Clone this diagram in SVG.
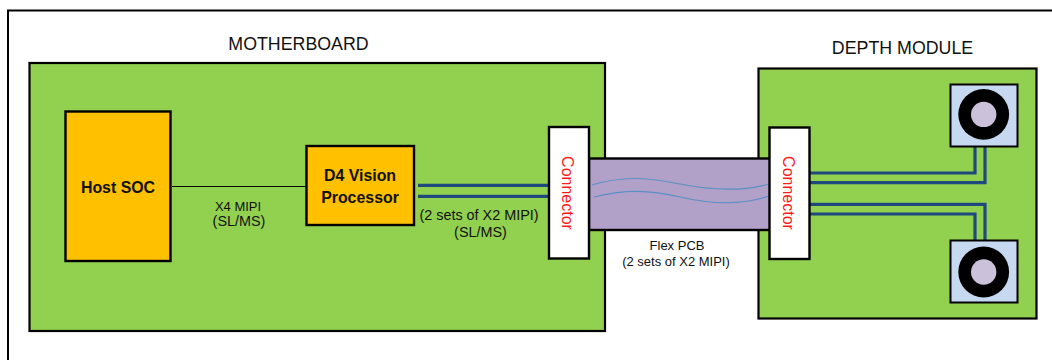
<svg xmlns="http://www.w3.org/2000/svg" width="1052" height="360" viewBox="0 0 1052 360">
<style>
.board{fill:#92d050;stroke:#000;stroke-width:2.2}
.chip{fill:#ffc000;stroke:#000;stroke-width:2.4}
.conn{fill:#fff;stroke:#000;stroke-width:2.4}
.sensor{fill:#c6d9f1;stroke:#000;stroke-width:2}
.flex{fill:#b1a0c7;stroke:#000;stroke-width:2.4}
.bus{fill:none;stroke:#1f497d;stroke-width:3.2}
.wave{fill:none;stroke:#5b8fc7;stroke-width:1.2}
text{font-family:"Liberation Sans",Arial,sans-serif;fill:#111;text-anchor:middle}
.title{font-size:17.8px}
.small{font-size:13px}
.mid{font-size:14.4px}
.bold{font-size:15.9px;font-weight:bold}
.red{font-size:16px;fill:#ff1a1a}
</style>
<path d="M8 360V10.500H1052" fill="none" stroke="#000" stroke-width="2"/>
<text class="title" x="298.500" y="50">MOTHERBOARD</text>
<text class="title" x="902.500" y="54">DEPTH MODULE</text>
<g id="motherboard"><rect class="board" x="29.500" y="63" width="575.500" height="268"/></g>
<g id="depth-module"><rect class="board" x="758.500" y="68.500" width="278" height="250"/></g>
<g id="flex-pcb"><rect class="flex" x="589" y="158.500" width="182" height="71.500"/>
<text class="small" x="677" y="250">Flex PCB</text><text class="small" x="676" y="266">(2 sets of X2 MIPI)</text></g>
<g id="connectors">
<path d="M172 186.500H306" fill="none" stroke="#000" stroke-width="1"/>
<path class="bus" d="M418 185.300H549M418 196.300H549"/>
<path class="wave" d="M592 185C625 175 650 178 680 184S740 192 769 184M594 197C625 189 650 190 680 197S740 206 769 196"/>
<path class="bus" d="M810 173H975V146M810 182.700H985V146M810 204.300H985V241M810 214H975V241"/>
</g>
<g id="host-soc"><rect class="chip" x="65.500" y="111.500" width="105" height="149.500"/><text class="bold" x="118" y="193">Host SOC</text></g>
<g id="d4-processor"><rect class="chip" x="306.500" y="146" width="107.500" height="79"/><text class="bold" x="360" y="181">D4 Vision</text><text class="bold" x="360" y="203">Processor</text></g>
<text class="small" x="238" y="211">X4 MIPI</text><text class="mid" x="239" y="226">(SL/MS)</text>
<text class="mid" x="479" y="219.500">(2 sets of X2 MIPI)</text><text class="mid" x="480.500" y="236.500">(SL/MS)</text>
<g id="connector-left"><rect class="conn" x="549" y="127" width="40" height="131.500"/><text class="red" transform="translate(562 193) rotate(90)">Connector</text></g>
<g id="connector-right"><rect class="conn" x="769.500" y="127.500" width="40" height="131.500"/><text class="red" transform="translate(782.500 193) rotate(90)">Connector</text></g>
<g id="sensor-top"><rect class="sensor" x="950.500" y="84.500" width="67" height="62"/><circle cx="983.700" cy="114.400" r="25.400" fill="#000"/><circle cx="983.700" cy="114.400" r="12.700" fill="#ccc1da"/></g>
<g id="sensor-bottom"><rect class="sensor" x="950.500" y="240.500" width="67" height="62"/><circle cx="983.700" cy="272" r="25.400" fill="#000"/><circle cx="983.700" cy="272" r="12.700" fill="#ccc1da"/></g>
</svg>
